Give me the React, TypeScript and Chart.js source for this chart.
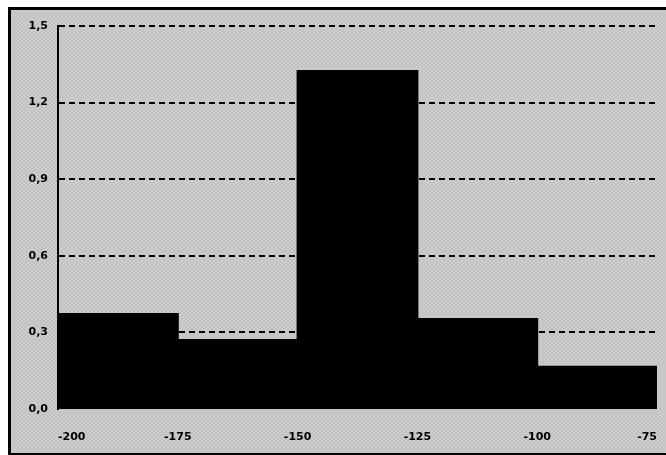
import React, { useEffect, useRef } from "react";
import { Chart, registerables } from "chart.js";

Chart.register(...registerables);

const binCenters = [-187.5, -162.5, -137.5, -112.5, -87.5];
const binValues = [0.372, 0.27, 1.324, 0.352, 0.165];
const xTicks = [-200, -175, -150, -125, -100, -75];
const yTicks = [0.0, 0.3, 0.6, 0.9, 1.2, 1.5];

export default function App() {
  const ref = useRef<HTMLCanvasElement | null>(null);
  useEffect(() => {
    if (!ref.current) return;
    const font = { family: "DejaVu Sans", size: 11, weight: "bold" as const };
    const chart = new Chart(ref.current, {
      type: "bar",
      data: {
        datasets: [
          {
            data: binCenters.map((x, i) => ({ x, y: binValues[i] })),
            backgroundColor: "#000000",
            borderWidth: 0,
            inflateAmount: 1,
            barPercentage: 1,
            categoryPercentage: 1,
          },
        ],
      },
      options: {
        animation: false,
        responsive: false,
        maintainAspectRatio: false,
        layout: { padding: { top: 16, right: 0, bottom: 0, left: 0 } },
        plugins: { legend: { display: false }, tooltip: { enabled: false } },
        scales: {
          x: {
            type: "linear",
            offset: false,
            min: xTicks[0],
            max: xTicks[xTicks.length - 1],
            afterBuildTicks: (s: any) => {
              s.ticks = xTicks.map((v) => ({ value: v }));
            },
            afterFit: (s: any) => {
              s.height = 44;
              s.paddingLeft = 0;
              s.paddingRight = 0;
            },
            grid: { display: false, drawTicks: false },
            border: { display: false },
            ticks: {
              color: "#000",
              font,
              padding: 22,
              maxRotation: 0,
              minRotation: 0,
              autoSkip: false,
              align: "inner",
              callback: (v: any) => String(v),
            },
          },
          y: {
            min: 0,
            max: 1.5,
            afterBuildTicks: (s: any) => {
              s.ticks = yTicks.map((v) => ({ value: v }));
            },
            afterFit: (s: any) => {
              s.width = 47;
              s.paddingTop = 0;
              s.paddingBottom = 0;
            },
            grid: {
              color: (c: any) =>
                c.tick && c.tick.value === 0 ? "rgba(0,0,0,0)" : "#000",
              lineWidth: 2,
              drawTicks: false,
            },
            border: { display: true, color: "#000", width: 2 },
            ticks: {
              color: "#000",
              font,
              padding: 10,
              callback: (v: any) => Number(v).toFixed(1).replace(".", ","),
            },
          },
        },
      },
    } as any);
    const y = (chart.options.scales as any).y;
    y.grid.borderDash = [6, 4];
    y.border.dash = [6, 4];
    chart.update();
    return () => chart.destroy();
  }, []);

  return (
    <div
      style={{
        position: "absolute",
        left: 8,
        top: 7,
        width: 655,
        height: 443,
        borderLeft: "3px solid #000",
        borderTop: "3px solid #000",
        borderBottom: "3px solid #000",
        background:
          "repeating-conic-gradient(#c1c1c1 0 25%, #cdcdcd 0 50%) 0 0 / 4px 4px",
        boxSizing: "content-box",
        overflow: "hidden",
      }}
    >
      <canvas ref={ref} width={646} height={443} style={{ display: "block", width: 646, height: 443 }} />
    </div>
  );
}
